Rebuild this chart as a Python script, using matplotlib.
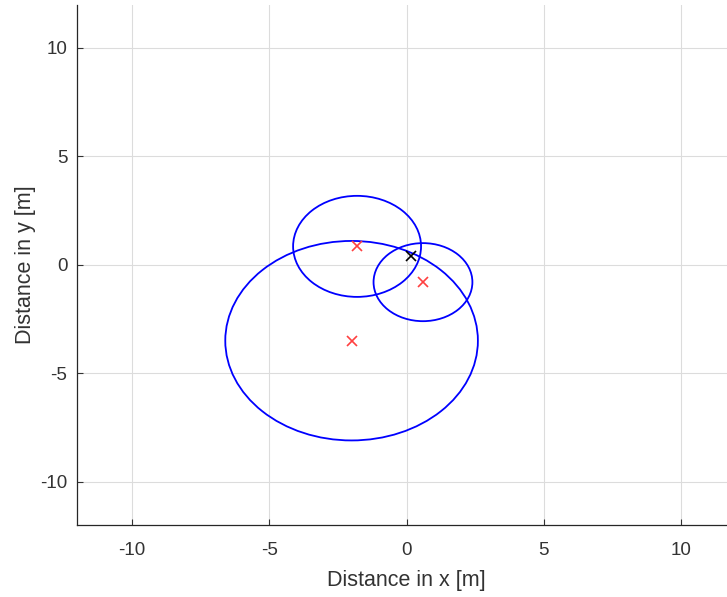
import matplotlib
matplotlib.use("Agg")
import matplotlib.pyplot as plt
from matplotlib.patches import Circle

plt.rcParams['font.family'] = ['Liberation Sans', 'DejaVu Sans']
plt.rcParams['axes.unicode_minus'] = False

# Anchor positions and their range circles
anchor_x = [-1.8, 0.6, -2.0]
anchor_y = [0.85, -0.8, -3.5]
radii = [2.33, 1.8, 4.6]

# Estimated position
est_x = [0.15]
est_y = [0.42]

x_ticks = [-10, -5, 0, 5, 10]
y_ticks = [-10, -5, 0, 5, 10]

fig = plt.figure(figsize=(7.27, 5.97), dpi=100)
fig.patch.set_facecolor('white')
W, H = 727, 597
left, right = 77, 736
top, bottom = 4.6, 525
ax = fig.add_axes([left / W, 1 - bottom / H, (right - left) / W, (bottom - top) / H])

for cx, cy, r in zip(anchor_x, anchor_y, radii):
    ax.add_patch(Circle((cx, cy), r, fill=False, edgecolor=(0, 0, 1), lw=1.3))

ax.plot(anchor_x, anchor_y, 'x', color=(1, 0.25, 0.25), ms=7, mew=1.2, ls='none')
ax.plot(est_x, est_y, 'x', color='black', ms=7, mew=1.2, ls='none')

ax.set_xlim(-12, 12)
ax.set_ylim(-12, 12)
ax.set_xticks(x_ticks)
ax.set_yticks(y_ticks)
ax.grid(True, color='#dcdcdc', lw=0.8)
ax.set_axisbelow(True)
for s in ['top', 'right']:
    ax.spines[s].set_visible(False)
for s in ['left', 'bottom']:
    ax.spines[s].set_color('#262626')
    ax.spines[s].set_linewidth(0.9)
ax.tick_params(direction='in', length=4, width=0.8, colors='#333333', labelsize=13.5)
ax.tick_params(axis='x', pad=12)
ax.tick_params(axis='y', pad=7)
ax.set_xlabel('Distance in x [m]', fontsize=15.5, color='#333333', labelpad=8)
ax.set_ylabel('Distance in y [m]', fontsize=15.5, color='#333333', labelpad=3)

fig.savefig('out.png', dpi=100)
